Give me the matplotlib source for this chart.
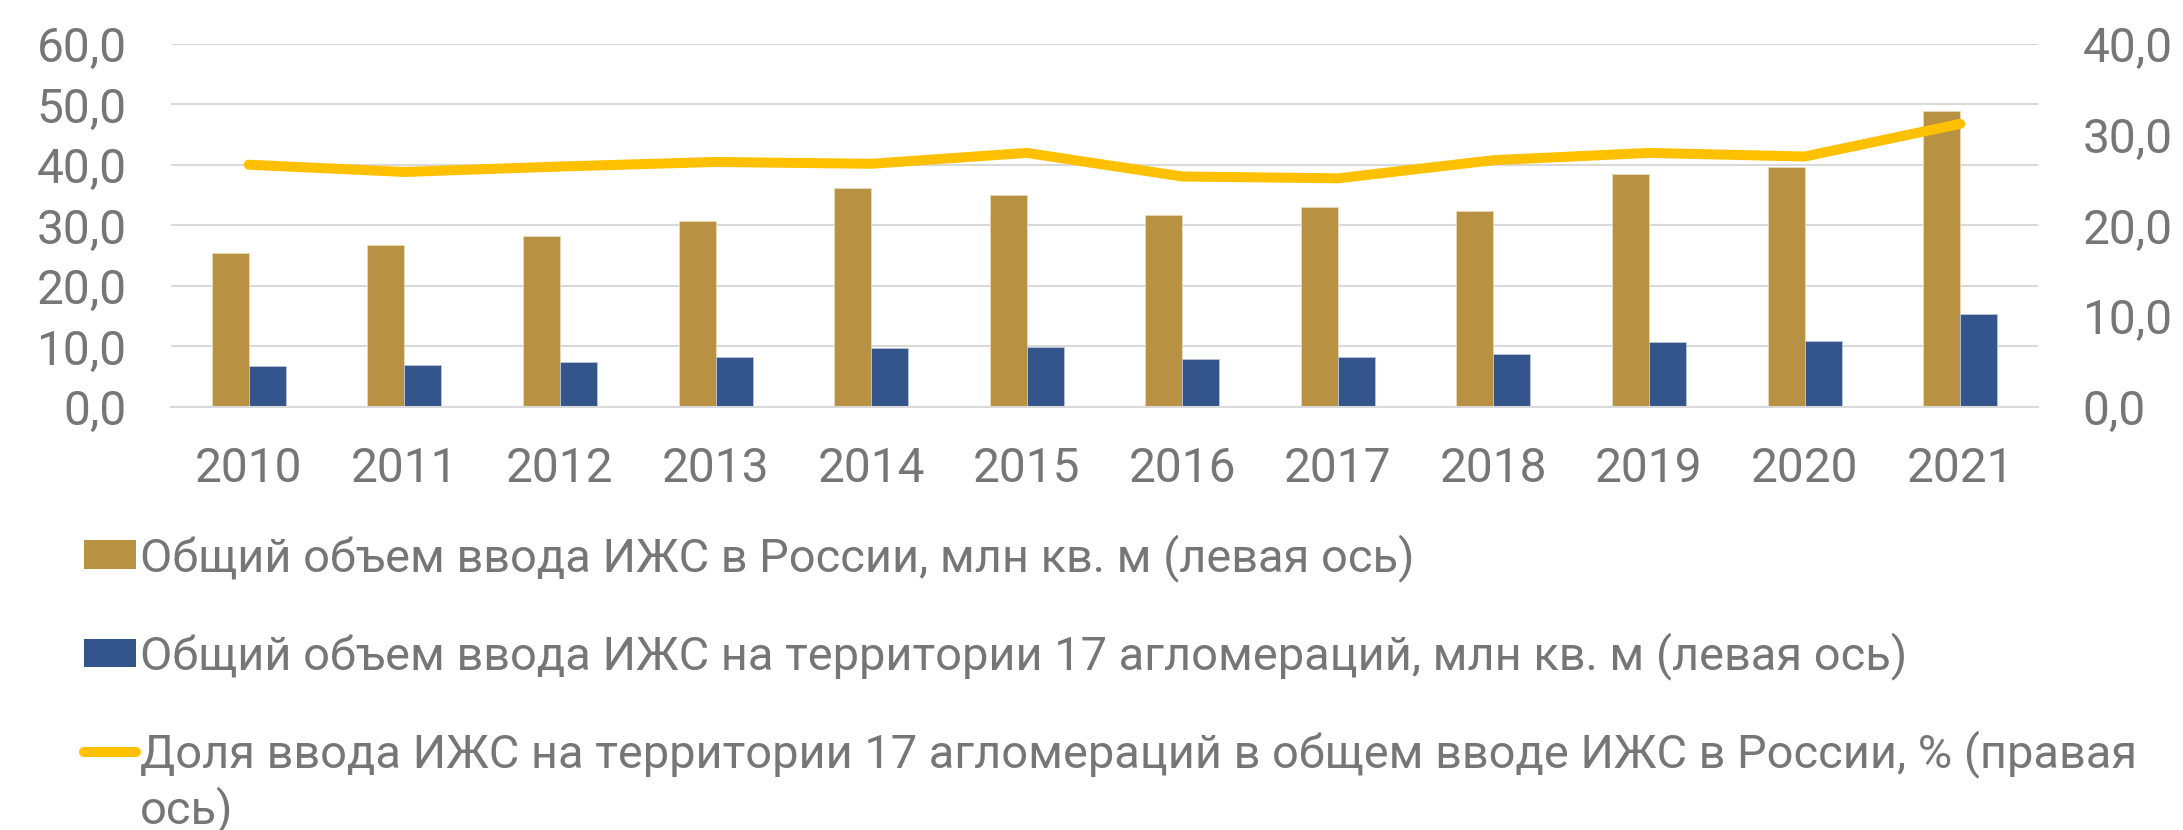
import matplotlib
matplotlib.use("Agg")
import matplotlib.pyplot as plt
import numpy as np
from matplotlib.patches import Patch
from matplotlib.lines import Line2D
from matplotlib.legend_handler import HandlerLine2D

plt.rcParams['font.family'] = ['Roboto', 'DejaVu Sans']

# data
years = ['2010', '2011', '2012', '2013', '2014', '2015',
         '2016', '2017', '2018', '2019', '2020', '2021']
russia_total = [25.5, 26.7, 28.3, 30.7, 36.2, 35.1, 31.7, 33.0, 32.4, 38.5, 39.7, 49.0]
aggl_total = [6.8, 6.9, 7.5, 8.3, 9.7, 9.85, 8.0, 8.3, 8.8, 10.8, 10.9, 15.4]
aggl_share = [26.7, 25.9, 26.5, 27.0, 26.8, 28.0, 25.4, 25.2, 27.2, 28.0, 27.6, 31.2]

labels = [
    'Общий объем ввода ИЖС в России, млн кв. м (левая ось)',
    'Общий объем ввода ИЖС на территории 17 агломераций, млн кв. м (левая ось)',
    'Доля ввода ИЖС на территории 17 агломераций в общем вводе ИЖС в России, % (правая\nось)',
]

GOLD = '#B89143'
BLUE = '#34558B'
YELLOW = '#FFC000'
TEXT = '#767676'
GRID = '#D9D9D9'
FS = 34.5
LEG_FS = 33.8


class FirstLineHandler(HandlerLine2D):
    # put the line next to the first text line of a wrapped label
    def create_artists(self, legend, orig_handle, xdescent, ydescent,
                       width, height, fontsize, trans):
        artists = super().create_artists(legend, orig_handle, xdescent, ydescent,
                                         width, height, fontsize, trans)
        for a in artists:
            if isinstance(a, Line2D):
                a.set_ydata(np.asarray(a.get_ydata()) + 0.68 * fontsize)
        return artists


fig = plt.figure(figsize=(21.83, 8.30), dpi=100)
ax = fig.add_axes([171 / 2183, 1 - 407 / 830, (2038 - 171) / 2183, (407 - 44) / 830])
ax2 = ax.twinx()

x = np.arange(len(years))
w = 0.238
ax.bar(x - w / 2, russia_total, w, color=GOLD, edgecolor='#E8D9B8', linewidth=0.6, zorder=2)
ax.bar(x + w / 2, aggl_total, w, color=BLUE, edgecolor='#B9C4D8', linewidth=0.6, zorder=2)
ax2.plot(x, aggl_share, color=YELLOW, linewidth=7.2, solid_capstyle='round',
         solid_joinstyle='miter', zorder=3)

ax.set_xlim(-0.5, len(years) - 0.5)
ax.set_ylim(0, 60)
ax2.set_ylim(0, 40)
ax.set_yticks(np.arange(0, 61, 10))
ax2.set_yticks(np.arange(0, 41, 10))
fmt = lambda v: f'{v:.1f}'.replace('.', ',')
ax.set_yticklabels([fmt(v) for v in np.arange(0, 61, 10)])
ax2.set_yticklabels([fmt(v) for v in np.arange(0, 41, 10)])
ax.set_xticks(x)
ax.set_xticklabels(years)

ax.grid(axis='y', color=GRID, linewidth=1.5, zorder=0)
ax.set_axisbelow(True)
for a in (ax, ax2):
    for s in a.spines.values():
        s.set_visible(False)
ax.spines['bottom'].set_visible(True)
ax.spines['bottom'].set_color(GRID)
ax.spines['bottom'].set_linewidth(1.5)

ax.tick_params(axis='y', length=0, pad=32, labelsize=FS, labelcolor=TEXT)
ax2.tick_params(axis='y', length=0, pad=32, labelsize=FS, labelcolor=TEXT)
ax.tick_params(axis='x', length=0, pad=28, labelsize=FS, labelcolor=TEXT)

line_handle = Line2D([0], [0], color=YELLOW, linewidth=7.2, solid_capstyle='round')
handles = [
    Patch(facecolor=GOLD, edgecolor='none'),
    Patch(facecolor=BLUE, edgecolor='none'),
    line_handle,
]
leg = fig.legend(handles, labels, loc='upper left', bbox_to_anchor=(84 / 2183, 1 - 534 / 830),
                 frameon=False, borderpad=0, borderaxespad=0, fontsize=LEG_FS,
                 handlelength=1.1, handleheight=0.56, handletextpad=0.1,
                 labelspacing=1.07, labelcolor=TEXT,
                 handler_map={line_handle: FirstLineHandler()})

fig.savefig('out.png', dpi=100)
